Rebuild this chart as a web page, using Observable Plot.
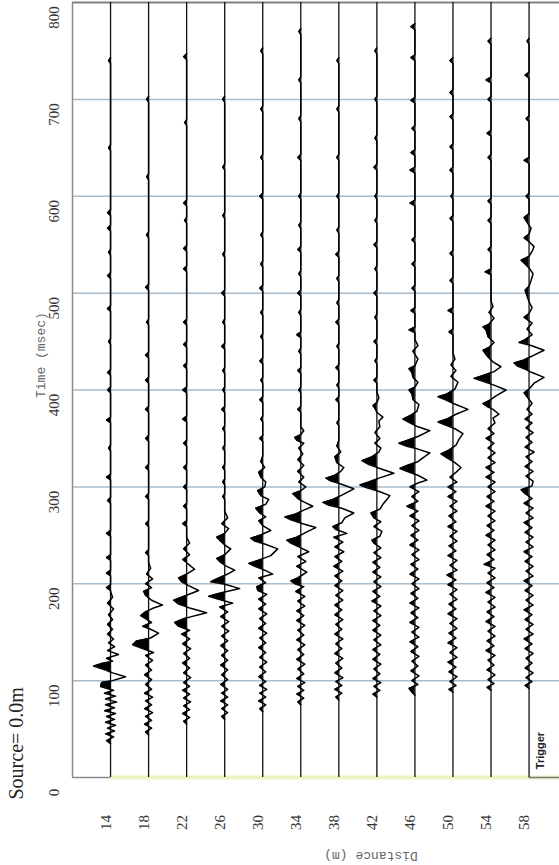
<!DOCTYPE html>
<html><head><meta charset="utf-8">
<script src="https://cdn.jsdelivr.net/npm/d3@7"></script>
<script src="https://cdn.jsdelivr.net/npm/@observablehq/plot@0.6"></script>
<style>html,body{margin:0;padding:0;background:#fff}svg{display:block}</style>
</head><body><div id="chart"></div>
<script>
// ---- data (time in msec, amplitude in screen-px-like units; negative = filled lobe) ----
const distances = [14, 18, 22, 26, 30, 34, 38, 42, 46, 50, 54, 58];
const timeTicks = [0, 100, 200, 300, 400, 500, 600, 700, 800];
const gridTimes = [100, 200, 300, 400, 500, 600, 700];
const xDomain = [10, 61.2];
const yDomain = [0, 800];
const triggerDistance = 58;

const wave14 = [35,0, 38,-4, 42,3, 45,-5, 48,4, 51,-3, 54,5, 57,-5, 60,4, 63,-4, 66,5, 69,-6, 72,4, 75,-5, 78,6, 81,-5, 84,5, 87,-6, 90,3, 94,-10, 98,-9, 100,2, 104,15, 108,2, 111,-5, 115,-17, 118,-8, 120,2, 123,-4, 127,8, 131,-3, 135,4, 139,-2, 143,3, 148,-3, 153,2, 158,-3, 163,2, 168,-2, 174,3, 180,-3, 186,2, 192,0];
const blip14 = [196,-4, 211,-4, 227,-4, 252,-4, 286,-3, 310,-4, 340,-2, 369,-4, 400,-3, 418,-3, 450,-2, 484,-3, 518,-3, 542,-2, 567,-3, 583,-3, 650,-2, 740,-2];

const wave18 = [44,0, 47,-3, 51,3, 55,-4, 59,3, 63,-3, 67,4, 71,-4, 75,3, 79,-3, 83,4, 87,-4, 91,3, 96,-3, 101,3, 106,-4, 111,3, 116,-3, 121,4, 126,-3, 129,5, 133,-6, 137,-16, 141,-12, 144,2, 149,10, 153,2, 156,-6, 160,3, 164,-3, 167,-8, 171,-3, 175,5, 178,14, 183,3, 188,-3, 192,-5, 196,3, 200,-3, 205,4, 210,-2, 216,2, 222,0];
const blip18 = [232,-3, 262,-3, 290,-3, 320,-3, 350,-3, 380,-3, 410,-3, 436,-3, 470,-2, 506,-3, 560,-2, 620,-2, 700,-2];

const wave22 = [55,0, 58,-3, 62,3, 66,-4, 70,3, 74,-3, 78,4, 82,-3, 86,3, 90,-4, 94,3, 98,-3, 103,4, 108,-3, 113,3, 118,-4, 123,3, 128,-3, 133,4, 138,-4, 143,3, 148,-5, 152,3, 156,-8, 160,-12, 164,-3, 170,20, 175,3, 179,-8, 183,-13, 187,-3, 193,12, 198,2, 202,-5, 206,-8, 210,0, 215,8, 220,2, 225,-4, 230,3, 236,-3, 242,3, 248,0];
const blip22 = [262,-4, 280,-3, 300,-3, 320,-3, 345,-3, 370,-4, 400,-4, 425,-3, 447,-3, 470,-3, 525,-3, 546,-3, 575,-2, 593,-3, 676,-2, 744,-3];

const wave26 = [60,0, 63,-3, 67,3, 71,-3, 75,3, 79,-4, 83,3, 87,-3, 91,3, 96,-4, 101,3, 106,-3, 111,3, 116,-4, 121,3, 126,-3, 131,3, 136,-4, 141,3, 146,-3, 151,4, 156,-3, 161,4, 166,-4, 171,3, 176,-5, 180,8, 184,-6, 187,-16, 190,-6, 195,15, 199,2, 202,-14, 206,-6, 210,3, 214,10, 218,2, 222,-4, 226,-8, 230,0, 236,6, 240,0, 244,-4, 248,-8, 252,0, 257,4, 262,-3, 268,3, 275,0];
const blip26 = [290,-2, 305,-2, 320,-2, 340,-2, 360,-2, 380,-3, 400,-2, 420,-2, 445,-3, 470,-2, 500,-3, 540,-2, 580,-2, 630,-2, 700,-2];

const wave30 = [68,0, 71,-3, 75,3, 79,-4, 83,3, 87,-3, 91,4, 95,-3, 99,3, 104,-4, 109,3, 114,-3, 119,4, 124,-3, 129,3, 134,-4, 139,3, 144,-3, 149,4, 154,-4, 159,3, 164,-3, 169,4, 174,-4, 179,3, 184,-4, 189,4, 193,-5, 197,-6, 201,3, 206,-4, 210,10, 214,2, 218,-8, 221,-14, 224,-5, 229,8, 236,15, 241,2, 244,-8, 247,-12, 250,-3, 255,8, 260,0, 265,-4, 269,3, 273,-3, 278,-7, 282,3, 287,6, 291,-2, 296,-5, 300,2, 305,3, 310,-2, 315,-4, 320,2, 326,-2, 332,0];
const blip30 = [350,-3, 370,-2, 390,-3, 410,-2, 430,-3, 455,-2, 480,-2, 505,-3, 530,-2, 560,-2, 600,-3, 640,-2, 690,-2, 750,-2];

const wave34 = [75,0, 78,-3, 82,3, 86,-4, 90,3, 94,-3, 98,4, 102,-4, 107,3, 112,-3, 117,4, 122,-4, 127,3, 132,-3, 137,4, 142,-4, 147,3, 152,-3, 157,4, 162,-4, 167,3, 172,-4, 177,4, 182,-3, 187,4, 192,-5, 197,3, 200,-6, 203,-10, 206,-3, 212,6, 218,-4, 223,5, 228,-3, 233,8, 238,-2, 242,-10, 245,-14, 248,-4, 253,5, 258,15, 262,2, 266,-10, 269,-16, 272,-5, 276,3, 280,12, 285,2, 288,-3, 290,-5, 293,-8, 296,0, 300,5, 305,-2, 310,3, 316,-3, 322,3, 328,-3, 334,2, 340,-2, 345,3, 348,-4, 351,-6, 354,0, 358,3, 362,0];
const blip34 = [380,-3, 400,-2, 420,-3, 440,-2, 457,-4, 480,-2, 500,-3, 520,-2, 545,-3, 570,-2, 600,-2, 640,-3, 680,-2, 720,-2, 770,-2];

const wave38 = [80,0, 83,-3, 87,3, 91,-4, 95,3, 99,-3, 103,4, 108,-4, 113,3, 118,-3, 123,4, 128,-4, 133,3, 138,-3, 143,4, 148,-4, 153,3, 158,-3, 163,4, 168,-4, 173,3, 178,-4, 183,4, 188,-3, 193,4, 198,-4, 203,3, 208,-4, 213,4, 218,-5, 223,3, 228,-4, 233,5, 238,-4, 243,4, 248,-5, 252,8, 256,-3, 259,-6, 263,3, 268,6, 273,15, 278,3, 281,-10, 284,-16, 287,-6, 292,4, 298,15, 303,2, 306,-8, 309,-13, 312,-4, 316,2, 320,5, 325,-2, 331,-4, 336,2, 342,-2, 348,0];
const blip38 = [366,-2, 390,-3, 405,-2, 423,-3, 445,-2, 470,-3, 490,-2, 515,-2, 540,-3, 565,-2, 600,-2, 640,-2, 690,-2, 740,-2];

const wave42 = [83,0, 86,-4, 90,3, 94,-3, 98,4, 102,-4, 107,3, 112,-3, 117,4, 122,-4, 127,3, 132,-4, 137,4, 142,-3, 147,4, 152,-4, 157,3, 162,-4, 167,4, 172,-3, 177,4, 182,-5, 187,3, 192,-4, 197,4, 202,-3, 207,4, 212,-4, 217,3, 222,-4, 227,4, 232,-3, 237,4, 242,-3, 245,-5, 249,3, 254,5, 259,-3, 264,4, 268,-3, 273,-6, 277,3, 282,6, 287,10, 291,13, 295,3, 299,-10, 302,-17, 305,-8, 309,2, 314,17, 319,3, 323,-8, 327,-15, 331,-5, 336,2, 340,4, 345,-2, 350,3, 356,-2, 362,3, 368,2, 372,6, 377,0, 381,-2, 384,-4, 387,0, 392,2, 398,0];
const blip42 = [410,-3, 430,-2, 450,-3, 475,-2, 500,-3, 525,-2, 550,-3, 575,-2, 600,-2, 630,-3, 660,-2, 700,-2, 750,-2];

const wave46 = [85,0, 88,-3, 92,-6, 96,3, 100,-3, 105,4, 110,-4, 115,3, 120,-3, 125,4, 130,-4, 135,3, 140,-5, 145,4, 150,-3, 155,4, 160,-5, 165,3, 170,-4, 175,4, 180,-5, 185,3, 190,-4, 195,4, 200,-3, 205,4, 210,-5, 215,3, 220,-4, 225,4, 230,-3, 235,4, 240,-5, 245,3, 250,-4, 255,4, 260,-3, 265,4, 270,-5, 275,3, 280,-8, 285,3, 290,-3, 295,4, 300,-5, 304,3, 307,12, 312,3, 316,-8, 319,-15, 322,-8, 326,3, 330,8, 335,15, 339,3, 342,-8, 345,-16, 348,-8, 352,3, 358,15, 362,3, 366,-5, 370,-12, 374,-4, 378,2, 385,4, 390,-2, 396,-3, 400,-6, 403,0, 408,3, 413,-2, 418,-3, 422,-6, 425,0, 432,3, 440,-2, 446,3, 452,0];
const blip46 = [462,-6, 482,-4, 505,-3, 530,-3, 555,-3, 593,-5, 627,-5, 645,-4, 670,-3, 699,-4, 743,-4, 775,-4];

const wave50 = [88,0, 91,-4, 95,3, 99,-3, 104,4, 109,-4, 114,3, 119,-5, 124,4, 129,-3, 134,4, 139,-5, 144,3, 149,-4, 154,4, 159,-3, 164,4, 169,-5, 174,3, 179,-4, 184,4, 189,-3, 194,4, 199,-5, 204,3, 209,-6, 214,4, 219,-3, 224,4, 229,-5, 234,3, 239,-4, 244,4, 249,-3, 254,4, 259,-5, 264,3, 270,-4, 275,4, 280,-3, 285,4, 290,-5, 295,3, 300,-5, 305,4, 310,-3, 315,3, 320,8, 325,2, 330,-6, 334,-12, 338,-4, 343,3, 349,6, 355,10, 360,2, 364,-8, 367,-15, 370,-6, 375,3, 380,15, 385,3, 390,-8, 393,-15, 396,-6, 401,2, 408,5, 414,-2, 420,3, 426,-2, 432,2, 438,0];
const blip50 = [460,-4, 482,-5, 513,-3, 541,-3, 577,-3, 600,-2, 627,-3, 651,-3, 682,-3, 707,-3, 740,-3];

const wave54 = [90,0, 93,-4, 97,3, 101,-3, 106,4, 111,-4, 116,3, 121,-3, 126,4, 131,-5, 136,3, 141,-4, 146,4, 151,-3, 156,4, 161,-5, 166,3, 171,-4, 176,4, 181,-3, 186,4, 191,-5, 196,3, 201,-4, 206,4, 211,-3, 216,4, 220,-7, 225,3, 230,-4, 235,4, 240,-3, 245,4, 250,-5, 255,3, 260,-4, 265,4, 270,-3, 275,4, 280,-5, 285,3, 290,-4, 295,4, 300,-3, 305,4, 310,-5, 315,3, 320,-5, 325,4, 330,-3, 335,4, 340,-3, 345,3, 350,-5, 355,3, 360,-3, 366,4, 371,2, 375,8, 380,2, 383,-4, 386,-8, 389,-2, 394,5, 400,15, 405,3, 409,-8, 412,-17, 415,-8, 419,3, 424,10, 429,2, 434,-3, 438,-6, 441,-8, 444,-2, 449,3, 455,-3, 462,-5, 465,-8, 468,-2, 474,3, 480,-2, 486,2, 492,0];
const blip54 = [522,-6, 545,-3, 575,-3, 595,-3, 640,-3, 665,-4, 700,-3, 720,-5, 760,-3];

const wave58 = [92,0, 95,-4, 99,3, 103,-3, 108,4, 113,-4, 118,3, 123,-3, 128,4, 133,-4, 138,3, 143,-5, 148,4, 153,-3, 158,4, 163,-4, 168,3, 173,-5, 178,4, 183,-3, 188,4, 193,-4, 198,3, 203,-5, 208,4, 213,-3, 218,4, 223,-4, 228,3, 233,-5, 238,4, 243,-3, 248,4, 253,-4, 258,3, 263,-5, 268,4, 273,-3, 278,4, 283,-5, 288,3, 293,-4, 297,-8, 301,3, 306,4, 311,-3, 316,4, 321,-4, 326,3, 331,-3, 336,5, 341,-4, 346,3, 351,-3, 356,4, 361,-3, 366,3, 370,-4, 375,3, 380,-2, 386,3, 393,-2, 397,-5, 401,0, 407,5, 413,15, 418,3, 422,-5, 425,-12, 428,-15, 431,-5, 436,5, 441,15, 446,2, 449,-10, 452,-4, 457,3, 463,-2, 469,3, 475,-5, 479,0, 485,3, 491,0, 497,-2, 503,-4, 507,0, 513,2, 520,4, 526,0, 530,-4, 534,-8, 538,0, 543,3, 548,5, 553,0, 557,-5, 561,0, 567,2, 573,-2, 578,-5, 582,0];
const blip58 = [600,-3, 637,-5, 680,-3, 725,-4, 760,-2];

// ---- build table ----
const gain = 1 / 9.523;   // amplitude units -> metres of offset on the distance axis
const blipHalf = 3;       // half-height of an isolated blip glyph, msec
const traceTable = [
  [14, wave14, blip14], [18, wave18, blip18], [22, wave22, blip22], [26, wave26, blip26],
  [30, wave30, blip30], [34, wave34, blip34], [38, wave38, blip38], [42, wave42, blip42],
  [46, wave46, blip46], [50, wave50, blip50], [54, wave54, blip54], [58, wave58, blip58]
];
const verts = [];
for (const [d, w, b] of traceTable) {
  const pts = [];
  for (let i = 0; i < w.length; i += 2) pts.push([w[i], w[i + 1]]);
  for (let i = 0; i < b.length; i += 2) pts.push([b[i] - blipHalf, 0], [b[i], b[i + 1]], [b[i] + blipHalf, 0]);
  for (let i = 0; i < pts.length; i++) {
    if (i > 0) {
      const [t0, a0] = pts[i - 1], [t1, a1] = pts[i];
      if (a0 * a1 < 0) verts.push({d, t: t0 + (t1 - t0) * (a0 / (a0 - a1)), a: 0});
    }
    verts.push({d, t: pts[i][0], a: pts[i][1]});
  }
}

const chart = Plot.plot({
  width: 559, height: 865,
  marginLeft: 72, marginRight: 0, marginTop: 2, marginBottom: 88,
  x: {domain: xDomain, axis: null},
  y: {domain: yDomain, axis: null},
  style: {fontFamily: "Liberation Serif", background: "#fff", color: "#222"},
  marks: [
    Plot.gridY(gridTimes, {stroke: "#a6bccd", strokeOpacity: 1, strokeWidth: 1.5}),
    Plot.ruleY([yDomain[0]], {x1: distances[0], x2: xDomain[1], stroke: "#eef2c4", strokeWidth: 4}),
    Plot.ruleY([yDomain[0]], {x1: xDomain[0], x2: distances[0], stroke: "#8a8a8a", strokeWidth: 1.5}),
    Plot.ruleY([yDomain[1]], {stroke: "#808080", strokeWidth: 2}),
    Plot.ruleX([xDomain[0]], {stroke: "#8a8a8a", strokeWidth: 1.5}),
    Plot.ruleY([yDomain[0]], {x1: triggerDistance, x2: xDomain[1], stroke: "#777", strokeWidth: 1.5}),
    Plot.ruleX(distances, {y1: yDomain[0], y2: yDomain[1], stroke: "#111", strokeWidth: 1.3}),
    Plot.areaX(verts, {y: "t", x1: "d", x2: v => v.d + Math.min(v.a, 0) * gain, z: "d", fill: "#000"}),
    Plot.lineX(verts, {y: "t", x: v => v.d + v.a * gain, z: "d", stroke: "#000", strokeWidth: 1.5, strokeLinejoin: "round"}),
    Plot.axisY(timeTicks, {tickSize: 0, tickRotate: -90, tickPadding: 14, dy: 15, fontSize: 15, label: null, fill: "#333"}),
    Plot.axisX(distances, {tickSize: 0, tickRotate: -90, textAnchor: "middle", lineAnchor: "bottom", tickPadding: 45, fontSize: 15, label: null, fill: "#333"}),
    Plot.text(["Time (msec)"], {frameAnchor: "left", dx: -32, dy: 8, rotate: -90, fontFamily: "Liberation Mono", fontSize: 13, fill: "#666"}),
    Plot.text(["Source= 0.0m"], {frameAnchor: "bottom-left", dx: -50, dy: 22, rotate: -90, fontFamily: "Liberation Serif", fontSize: 20, fill: "#222"}),
    Plot.text(["Distance (m)"], {frameAnchor: "bottom", dx: 55, dy: 74, rotate: 180, fontFamily: "Liberation Mono", fontSize: 13, fill: "#666"}),
    Plot.text([{d: triggerDistance, t: yDomain[0]}], {x: "d", y: "t", text: () => "Trigger", dx: 11, dy: -27, rotate: -90, fontFamily: "Liberation Sans", fontWeight: "bold", fontSize: 11, fill: "#222"})
  ]
});
document.getElementById("chart").append(chart);
</script>
</body></html>
